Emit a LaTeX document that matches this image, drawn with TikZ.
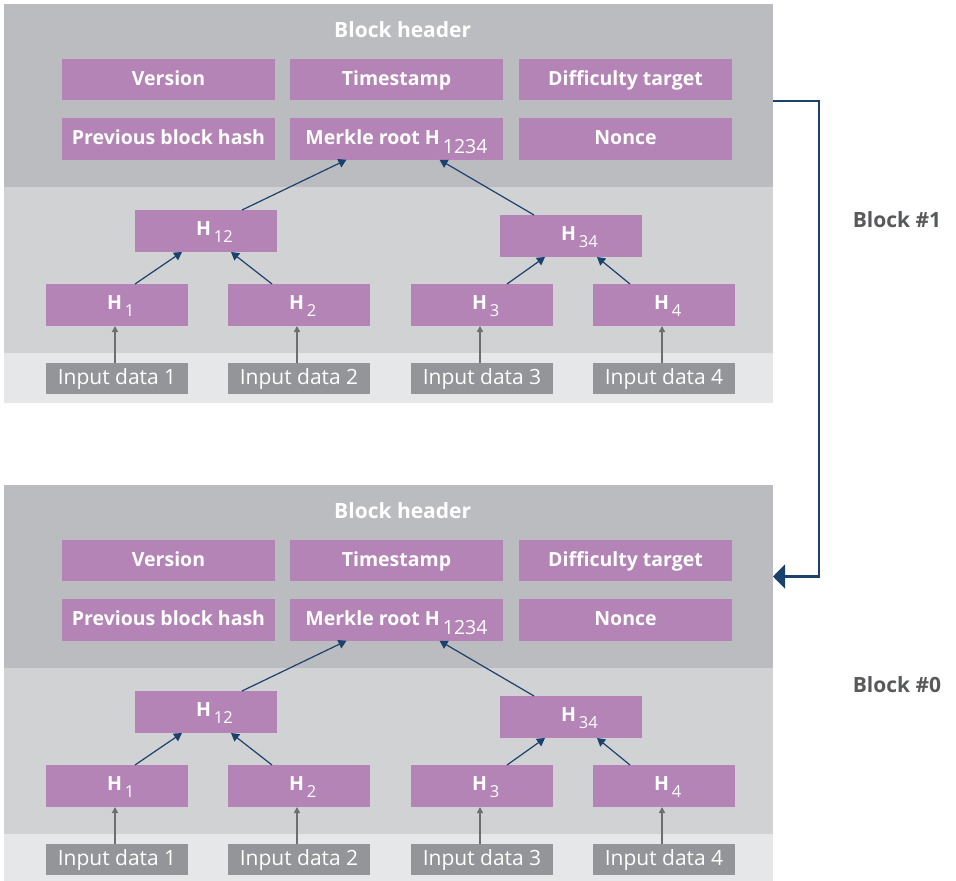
\documentclass[tikz,border=0pt]{standalone}
\usepackage{fontspec}
\setmainfont{Open Sans}
\usetikzlibrary{arrows.meta}

\definecolor{hdrgray}{HTML}{BBBCBF}
\definecolor{midgray}{HTML}{D1D2D4}
\definecolor{lowgray}{HTML}{E6E7E8}
\definecolor{fieldpurple}{HTML}{B384B5}
\definecolor{inputgray}{HTML}{939598}
\definecolor{linknavy}{HTML}{1B416D}
\definecolor{feedgray}{HTML}{6D6E71}
\definecolor{labelgray}{HTML}{58595B}

% hash label: bold H with a regular, lowered index
\newcommand{\hashlbl}[1]{\makebox[20pt][l]{H\hspace{3pt}\raisebox{-7pt}{\fontsize{16.5}{17}\selectfont\mdseries #1}}}

% one block: header fields, Merkle tree and input data
\newcommand{\chainblock}{%
  \node[band, fill=hdrgray, minimum height=183pt] (header) at (388.5,95.5) {};
  \node[band, fill=midgray, minimum height=166pt] (tree) at (388.5,270) {};
  \node[band, fill=lowgray, minimum height=50pt] (inputs) at (388.5,378) {};
  \node[title] (title) at (402.7,37.7) {Block header};
  \node[field, minimum height=41pt] (version) at (168.5,79.5) {Version};
  \node[field, minimum height=41pt] (timestamp) at (396.5,79.5) {Timestamp};
  \node[field, minimum height=41pt] (difficulty) at (625.5,79.5) {Difficulty target};
  \node[field] (prevhash) at (168.5,139) {Previous block hash};
  \node[field] (merkle) at (396.5,139) {Merkle root H\hspace{3pt}\raisebox{-9pt}{\mdseries 1234}};
  \node[field] (nonce) at (625.5,139) {Nonce};
  \node[hashbox] (h12) at (206,231) {\hashlbl{12}};
  \node[hashbox] (h34) at (571,236) {\hashlbl{34}};
  \node[hashbox] (h1) at (117,305) {\hashlbl{1}};
  \node[hashbox] (h2) at (299,305) {\hashlbl{2}};
  \node[hashbox] (h3) at (482,305) {\hashlbl{3}};
  \node[hashbox] (h4) at (664,305) {\hashlbl{4}};
  \foreach \i/\x in {1/117,2/299,3/482,4/664}
    \node[inputbox] (in\i) at (\x,378.5) {Input data \i};
  \foreach \i in {1,...,4}
    \draw[feed] ([xshift=-2pt]in\i.north) -- ([xshift=-2pt]h\i.south);
  \draw[tree link] ([xshift=18pt]h1.north) -- ([xshift=-24pt]h12.south);
  \draw[tree link] ([xshift=-27pt]h2.north) -- ([xshift=25pt]h12.south);
  \draw[tree link] ([xshift=25pt]h3.north) -- ([xshift=-26pt]h34.south);
  \draw[tree link] ([xshift=-34pt]h4.north) -- ([xshift=26pt]h34.south);
  \draw[tree link] ([xshift=36pt]h12.north) -- ([xshift=-50pt]merkle.south);
  \draw[tree link] ([xshift=-37pt]h34.north) -- ([xshift=43pt]merkle.south);
}

\begin{document}
\begin{tikzpicture}[x=1pt, y=-1pt,
  band/.style={draw=none, inner sep=0pt, outer sep=0pt, minimum width=769pt},
  title/.style={anchor=base, text=white, font=\bfseries\fontsize{21}{24}\selectfont},
  field/.style={fill=fieldpurple, text=white, inner sep=0pt, outer sep=0pt,
    minimum width=213pt, minimum height=41.5pt, text height=11pt, text depth=0pt,
    font=\bfseries\fontsize{19.5}{23}\selectfont},
  hashbox/.style={field, minimum width=142pt, minimum height=42pt, text height=9.4pt},
  inputbox/.style={fill=inputgray, text=white, inner sep=0pt, outer sep=0pt,
    minimum width=142pt, minimum height=31pt, text height=11pt, text depth=0pt,
    font=\fontsize{21}{25}\selectfont},
  feed/.style={draw=feedgray, line width=1.3pt, -{Triangle[length=6pt,width=6pt]}},
  tree link/.style={draw=linknavy, line width=1.2pt, -{Triangle[length=8pt,width=9pt]}},
  chain link/.style={draw=linknavy, line width=2.3pt, -{Triangle[length=12pt,width=24pt]}},
  blocklabel/.style={anchor=base, text=labelgray, font=\bfseries\fontsize{21}{24}\selectfont}]
  \useasboundingbox (0,0) rectangle (956,881);

  \begin{scope}[name prefix=b1-]
    \chainblock
  \end{scope}
  \begin{scope}[shift={(0,481)}, name prefix=b0-]
    \chainblock
  \end{scope}

  % link from the newer block back to the older block's header
  \draw[chain link] ([yshift=-5.5pt]b1-header.east) -- ++(46,0) |- (b0-header.east);

  \node[blocklabel] (lbl1) at (897,227.7) {Block \#1};
  \node[blocklabel] (lbl0) at (897,692.3) {Block \#0};
\end{tikzpicture}
\end{document}
